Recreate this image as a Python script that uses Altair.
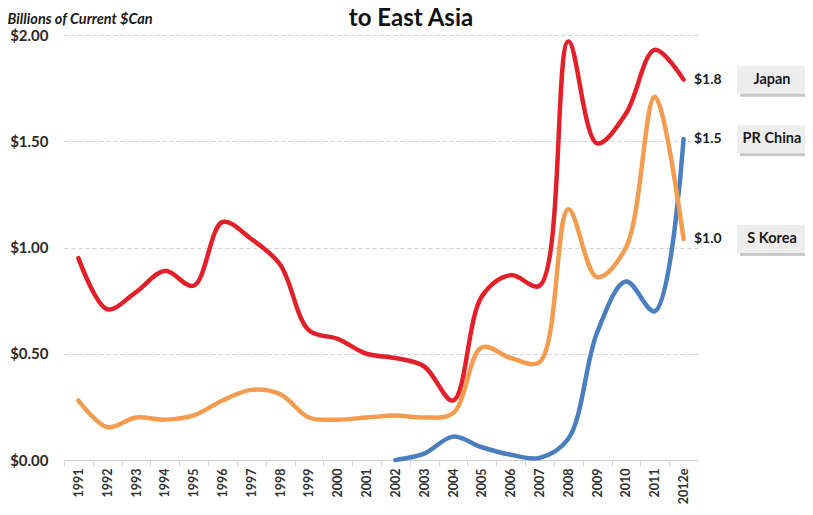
import altair as alt
import pandas as pd

years = ["1991", "1992", "1993", "1994", "1995", "1996", "1997", "1998", "1999", "2000",
         "2001", "2002", "2003", "2004", "2005", "2006", "2007", "2008", "2009", "2010",
         "2011", "2012e"]
japan = [0.95, 0.71, 0.79, 0.89, 0.82, 1.12, 1.04, 0.92, 0.61, 0.57, 0.50, 0.48, 0.44,
         0.28, 0.77, 0.87, 0.82, 1.97, 1.49, 1.63, 1.93, 1.79]
korea = [0.28, 0.155, 0.20, 0.19, 0.21, 0.28, 0.33, 0.31, 0.20, 0.19, 0.20, 0.21, 0.20,
         0.22, 0.53, 0.48, 0.46, 1.18, 0.86, 1.00, 1.71, 1.04]
china = [None] * 11 + [0.0, 0.03, 0.11, 0.06, 0.025, 0.01, 0.10, 0.60, 0.84, 0.70, 1.51]

series_names = ["Japan", "PR China", "S Korea"]
series_values = [japan, china, korea]
series_colors = ["#e2202a", "#4a7ebf", "#f39b4e"]

title_text = "to East Asia"
y_title = "Billions of Current $Can"

rows = []
for name, vals in zip(series_names, series_values):
    for yr, v in zip(years, vals):
        if v is not None:
            rows.append({"series": name, "year": yr, "value": v})
df = pd.DataFrame(rows)

ends = pd.DataFrame({
    "series": series_names,
    "value": [vals[-1] for vals in series_values],
})
ends["label"] = ends["value"].map(lambda v: f"${v:.1f}")

FONT = "Lato"

x_enc = alt.X("year:N", sort=years,
              scale=alt.Scale(paddingInner=0, paddingOuter=0),
              axis=alt.Axis(title=None, labelAngle=270, labelFont=FONT,
                            labelFontWeight="bold", labelFontSize=12.5,
                            labelColor="#333333", labelPadding=2,
                            domainColor="#d4d4d4", tickColor="#d4d4d4",
                            tickSize=6, tickOffset=-14.41, labelOffset=14.41,
                            grid=False))
y_enc = alt.Y("value:Q",
              scale=alt.Scale(domain=[0, 2], nice=False, zero=True),
              axis=alt.Axis(values=[0, 0.5, 1.0, 1.5, 2.0], format="$.2f",
                            grid=True, gridDash=[4, 3], gridColor="#d2d2d2",
                            domain=False, ticks=False, labelFont=FONT,
                            labelFontWeight="bold", labelFontSize=15,
                            labelColor="#2a2a2a", labelPadding=16,
                            title=y_title, titleAngle=0,
                            titleX=-57, titleY=-12, titleAlign="left",
                            titleBaseline="alphabetic", titleFont=FONT,
                            titleFontStyle="italic", titleFontWeight="bold",
                            titleFontSize=14.5, titleColor="#1a1a1a"))

color = alt.Color("series:N",
                  scale=alt.Scale(domain=series_names, range=series_colors),
                  legend=None)

lines = alt.Chart(df).mark_line(interpolate="catmull-rom", strokeWidth=4.5,
                                strokeCap="round").encode(
    x=x_enc, y=y_enc, color=color)

y_end = alt.Y("value:Q", scale=alt.Scale(domain=[0, 2], nice=False))

value_labels = alt.Chart(ends).mark_text(align="left", baseline="middle",
                                         font=FONT, fontWeight="bold",
                                         fontSize=14, color="#1a1a1a").encode(
    x=alt.value(630), y=y_end, text="label:N")

box_shadow = alt.Chart(ends).mark_rect(color="#c9c9c9", yOffset=-11, y2Offset=17,
                                       xOffset=3, x2Offset=3).encode(
    x=alt.value(673), x2=alt.value(741), y=y_end, y2="value:Q")

boxes = alt.Chart(ends).mark_rect(color="#ededed", yOffset=-14, y2Offset=14).encode(
    x=alt.value(673), x2=alt.value(741), y=y_end, y2="value:Q")

name_labels = alt.Chart(ends).mark_text(align="center", baseline="middle",
                                        font=FONT, fontWeight="bold",
                                        fontSize=14.5, color="#1a1a1a").encode(
    x=alt.value(708), y=y_end, text="series:N")

title_mark = alt.Chart(pd.DataFrame({"t": [title_text]})).mark_text(
    align="center", baseline="alphabetic", font=FONT, fontWeight="bold",
    fontSize=24, color="#111111").encode(
    x=alt.value(347), y=alt.value(-9), text="t:N")

chart = alt.layer(lines, value_labels, box_shadow, boxes, name_labels,
                  title_mark).properties(
    width=634, height=425,
    padding={"left": 56, "top": 27, "right": 107, "bottom": 46},
    autosize="none",
).configure_view(stroke=None)

chart.save("out.html", embed_options={"renderer": "svg", "actions": False})
